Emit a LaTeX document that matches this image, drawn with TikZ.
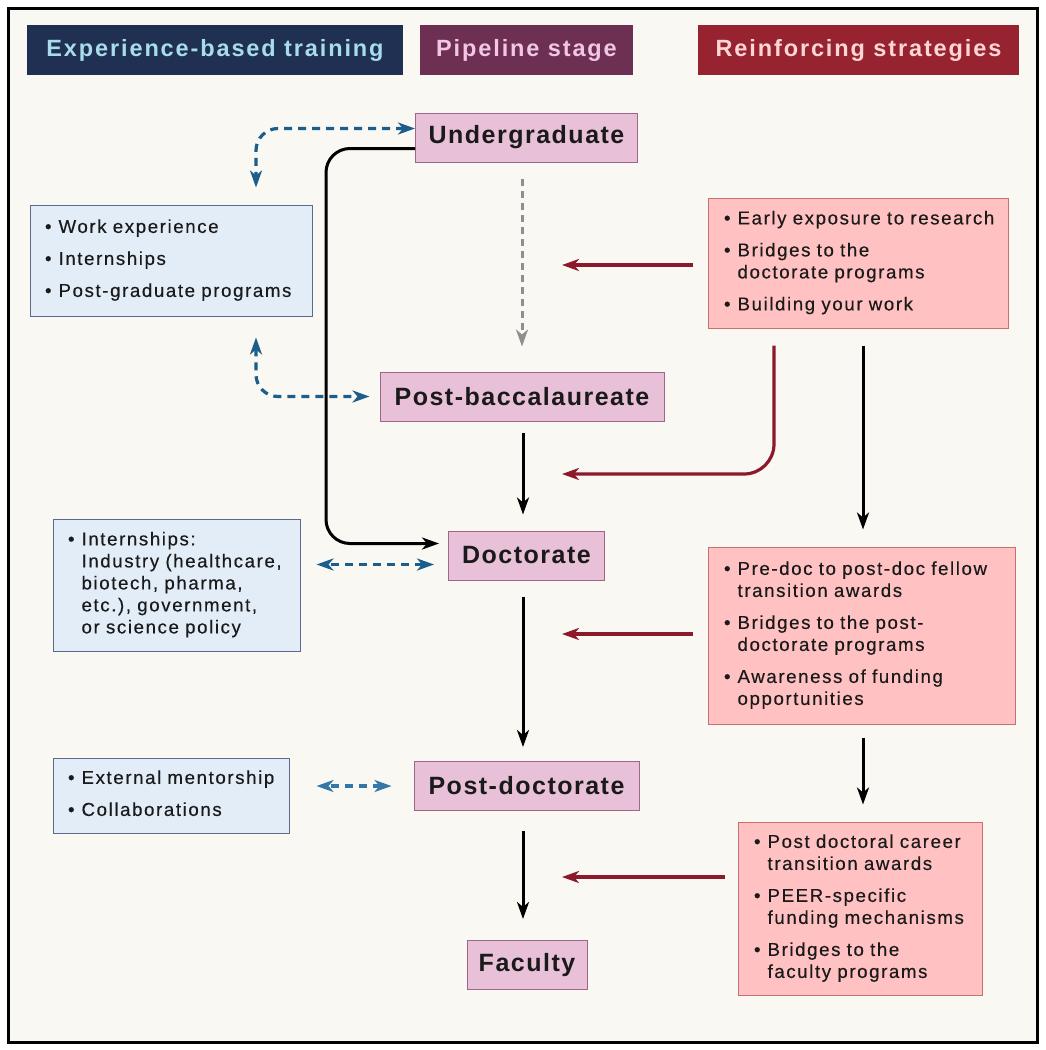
\documentclass[tikz,border=0pt]{standalone}
\usepackage{fontspec}
\setmainfont{Liberation Sans}[LetterSpace=8.5, FakeBold=0.35]
\newfontfamily\headfont{Liberation Sans Bold}[LetterSpace=8]
\newfontfamily\stagefont{Liberation Sans Bold}[LetterSpace=6]
\usetikzlibrary{arrows.meta}
\definecolor{cream}{HTML}{FAF8F3}
\definecolor{navy}{HTML}{1F3052}
\definecolor{navytext}{HTML}{A8DCEB}
\definecolor{plum}{HTML}{6E3052}
\definecolor{plumtext}{HTML}{F2C6E6}
\definecolor{redhead}{HTML}{972330}
\definecolor{redheadtext}{HTML}{FFD6D6}
\definecolor{stagefill}{HTML}{E8C1D9}
\definecolor{stageline}{HTML}{A0668A}
\definecolor{bluefill}{HTML}{E2EDF8}
\definecolor{blueline}{HTML}{5C6B8C}
\definecolor{pinkfill}{HTML}{FFC1C1}
\definecolor{pinkline}{HTML}{C8706E}
\definecolor{redarrow}{HTML}{8B1A2B}
\definecolor{bluearrow}{HTML}{1B5E8C}
\definecolor{lightbluearrow}{HTML}{3478A8}
\definecolor{grayarrow}{HTML}{8F8F8F}
\definecolor{ink}{HTML}{1A1A1A}
\newcommand\bt{\textbullet}
\tikzset{mytip/.tip={Stealth[length=17pt,width=12pt,inset=5pt]}}
\begin{document}
\begin{tikzpicture}[x=1pt,y=-1pt,
  hdr/.style={inner sep=0pt, minimum height=50pt, font=\headfont\fontsize{23.5}{28}\selectfont},
  stage/.style={draw=stageline, fill=stagefill, line width=1pt, inner sep=0pt,
     minimum height=49pt, text=ink, font=\stagefont\fontsize{25}{30}\selectfont},
  bluebox/.style={draw=blueline, fill=bluefill, line width=1pt, inner xsep=15pt, inner ysep=0pt,
     align=left, text=ink, font=\fontsize{18.7}{22}\selectfont},
  pinkbox/.style={draw=pinkline, fill=pinkfill, line width=1pt, inner xsep=16pt, inner ysep=0pt,
     align=left, text=ink, font=\fontsize{18.7}{22}\selectfont},
  blk/.style={line width=3pt, black, -{mytip}},
  reda/.style={line width=3.2pt, redarrow, -{mytip}},
  bdash/.style={line width=3.2pt, bluearrow, dash pattern=on 8pt off 6pt, {mytip}-{mytip}},
]
\path[use as bounding box] (0,0) rectangle (1045,1050);
\fill[white] (0,0) rectangle (1045,1050);
\draw[line width=3pt, fill=cream] (8,8) rectangle (1037,1042);

% headers
\node[hdr, fill=navy, text=navytext, minimum width=376pt] (h1) at (215,50) {Experience-based training};
\node[hdr, fill=plum, text=plumtext, minimum width=213pt] (h2) at (526.5,50) {Pipeline stage};
\node[hdr, fill=redhead, text=redheadtext, minimum width=321pt] (h3) at (858.5,50) {Reinforcing strategies};

% pipeline stages
\node[stage, minimum width=222pt] (ug) at (526.5,137.5) {Undergraduate};
\node[stage, minimum width=284pt] (pb) at (522,396.5) {Post-baccalaureate};
\node[stage, minimum width=156pt] (doc) at (526.5,555.5) {Doctorate};
\node[stage, minimum width=225pt] (pd) at (526.5,786) {Post-doctorate};
\node[stage, minimum width=120pt] (fac) at (527,965) {Faculty};

% left boxes
\node[bluebox, text width=252pt, minimum height=111pt] (b1) at (171,260.5) {%
\begin{tabular}{@{}l@{\hspace{7pt}}l@{}}
\bt & Work experience\\[10pt]
\bt & Internships\\[10pt]
\bt & Post-graduate programs
\end{tabular}};
\node[bluebox, text width=217pt, minimum height=132pt] (b2) at (176.5,585) {%
\begin{tabular}{@{}l@{\hspace{7pt}}l@{}}
\bt & Internships:\\
 & Industry (healthcare,\\
 & biotech, pharma,\\
 & etc.), government,\\
 & or science policy
\end{tabular}};
\node[bluebox, text width=206pt, minimum height=75pt] (b3) at (171,795.5) {%
\begin{tabular}{@{}l@{\hspace{7pt}}l@{}}
\bt & External mentorship\\[10pt]
\bt & Collaborations
\end{tabular}};

% right boxes
\node[pinkbox, text width=268pt, minimum height=130pt] (r1) at (858,263) {%
\begin{tabular}{@{}l@{\hspace{7pt}}l@{}}
\bt & Early exposure to research\\[10pt]
\bt & Bridges to the\\
 & doctorate programs\\[10pt]
\bt & Building your work
\end{tabular}};
\node[pinkbox, text width=275pt, minimum height=177pt] (r2) at (861.5,635.5) {%
\begin{tabular}{@{}l@{\hspace{7pt}}l@{}}
\bt & Pre-doc to post-doc fellow\\
 & transition awards\\[10pt]
\bt & Bridges to the post-\\
 & doctorate programs\\[10pt]
\bt & Awareness of funding\\
 & opportunities
\end{tabular}};
\node[pinkbox, text width=212pt, minimum height=173pt] (r3) at (860,908.5) {%
\begin{tabular}{@{}l@{\hspace{7pt}}l@{}}
\bt & Post doctoral career\\
 & transition awards\\[10pt]
\bt & PEER-specific\\
 & funding mechanisms\\[10pt]
\bt & Bridges to the\\
 & faculty programs
\end{tabular}};

% free ends of red arrows
\coordinate (t1) at (562,265);
\coordinate (t2) at (562,474);
\coordinate (t3) at (562,634);
\coordinate (t4) at (562,877);

% blue dashed connectors
\draw[bdash, rounded corners=22pt, shorten >=17pt] ([yshift=9pt]ug.west) -| ([xshift=85pt]b1.north);
\draw[bdash, rounded corners=22pt, shorten <=21pt, shorten >=10pt] ([xshift=85pt]b1.south) |- (pb.west);
\coordinate (d3) at ([yshift=-9pt]doc.west);
\draw[bdash, shorten <=14pt, shorten >=16pt] (d3) -- (d3 -| b2.east);
\draw[bdash, lightbluearrow, shorten <=22pt, shorten >=27pt] (pd.west) -- (pd.west -| b3.east);

% black connectors
\draw[blk, rounded corners=24pt, shorten >=9pt] ([yshift=-11pt]ug.west) -- ++(-89,0) |- ([yshift=12pt]doc.west);
\draw[line width=3pt, grayarrow, dash pattern=on 7pt off 5pt, -{mytip}, shorten <=16pt, shorten >=25pt]
   (pb.north |- ug.south) -- (pb.north);
\draw[blk, shorten <=11pt, shorten >=16pt] ([xshift=1pt]pb.south) -- ([xshift=1pt]pb.south |- doc.north);
\draw[blk, shorten <=16pt, shorten >=14pt] ([xshift=-3.5pt]doc.south) -- ([xshift=-3.5pt]doc.south |- pd.north);
\draw[blk, shorten <=20pt, shorten >=21pt] ([xshift=-3.5pt]pd.south) -- ([xshift=-3.5pt]pd.south |- fac.north);
\draw[blk, shorten <=17pt, shorten >=17pt] ([xshift=5pt]r1.south) -- ([xshift=5pt]r1.south |- r2.north);
\draw[blk, shorten <=13pt, shorten >=17pt] ([xshift=1.5pt]r2.south) -- ([xshift=1.5pt]r2.south |- r3.north);

% red connectors
\draw[reda, shorten <=15pt] (r1.west |- t1) -- (t1);
\draw[reda, rounded corners=30pt, shorten <=17pt] ([xshift=-84pt]r1.south) |- (t2);
\draw[reda, shorten <=15pt] (r2.west |- t3) -- (t3);
\draw[reda, shorten <=13pt] (r3.west |- t4) -- (t4);
\end{tikzpicture}
\end{document}
